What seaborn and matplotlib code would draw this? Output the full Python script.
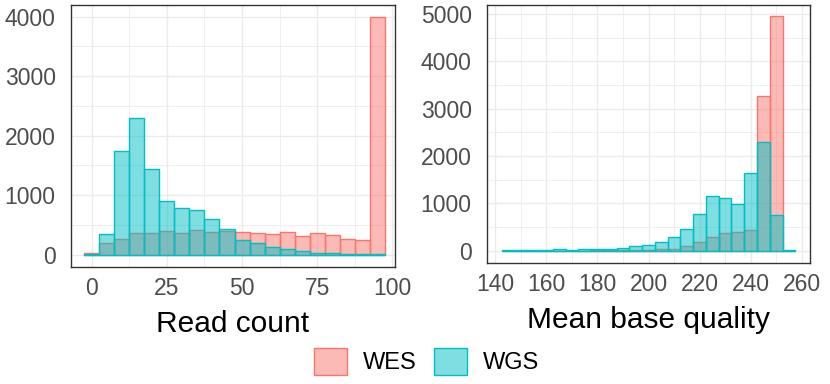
import numpy as np
import pandas as pd
import matplotlib
matplotlib.use("Agg")
import matplotlib.pyplot as plt
from matplotlib.colors import to_rgba
from matplotlib.patches import Patch
from matplotlib.ticker import FixedLocator
import seaborn as sns

# ---------------- data ----------------
groups = ["WES", "WGS"]
colors = {"WES": "#F8766D", "WGS": "#00BFC4"}

read_count_bins = [0, 5, 10, 15, 20, 25, 30, 35, 40, 45,
                   50, 55, 60, 65, 70, 75, 80, 85, 90, 95]
read_count_wes = [30, 200, 267, 356, 367, 389, 367, 406, 372, 389,
                  383, 367, 350, 383, 317, 356, 322, 261, 250, 4000]
read_count_wgs = [3, 339, 1744, 2294, 1433, 894, 778, 750, 594, 422,
                  250, 200, 133, 100, 67, 33, 22, 17, 11, 11]

mbq_bins = [145, 150, 155, 160, 165, 170, 175, 180, 185, 190, 195, 200,
            205, 210, 215, 220, 225, 230, 235, 240, 245, 250, 255]
mbq_wes = [2, 2, 2, 3, 3, 4, 5, 6, 7, 8, 10, 20,
           30, 40, 95, 180, 285, 372, 395, 432, 3260, 4950, 5]
mbq_wgs = [14, 14, 14, 21, 28, 21, 32, 40, 47, 56, 98, 112,
           196, 281, 468, 786, 1160, 1118, 989, 1641, 2300, 750, 7]

read_ticks = [0, 25, 50, 75, 100]
read_minor = [12.5, 37.5, 62.5, 87.5]
read_yticks = [0, 1000, 2000, 3000, 4000]
read_yminor = [500, 1500, 2500, 3500]
mbq_ticks = [140, 160, 180, 200, 220, 240, 260]
mbq_minor = [150, 170, 190, 210, 230, 250]
mbq_yticks = [0, 1000, 2000, 3000, 4000, 5000]
mbq_yminor = [500, 1500, 2500, 3500, 4500]

# ---------------- style ----------------
sns.set_style("white")
plt.rcParams["font.family"] = ["Liberation Sans", "DejaVu Sans"]

W, H = 830, 384
fig = plt.figure(figsize=(W / 100, H / 100), dpi=100)

def px_axes(x0, x1, ytop, ybot):
    return fig.add_axes([x0 / W, (H - ybot) / H, (x1 - x0) / W, (ybot - ytop) / H])

ax1 = px_axes(71, 395, 4.7, 266.5)
ax2 = px_axes(487, 810, 4.7, 262.5)

def draw(ax, bins, wes, wgs, binwidth):
    df = pd.DataFrame({
        "value": list(bins) * 2,
        "count": list(wes) + list(wgs),
        "group": ["WES"] * len(bins) + ["WGS"] * len(bins),
    })
    lo = bins[0] - binwidth / 2
    hi = bins[-1] + binwidth / 2
    for g in groups:
        sub = df[df["group"] == g]
        sns.histplot(data=sub, x="value", weights="count", binwidth=binwidth,
                     binrange=(lo, hi), ax=ax, color=colors[g], alpha=0.5,
                     edgecolor=colors[g], linewidth=1.0, legend=False)
    ymax = max(max(wes), max(wgs))
    ax.set_ylim(-0.05 * ymax, 1.05 * ymax)

draw(ax1, read_count_bins, read_count_wes, read_count_wgs, 5)
draw(ax2, mbq_bins, mbq_wes, mbq_wgs, 5)

ax1.set_xlim(-6.9, 100.9)
ax2.set_xlim(136.75, 263.25)

for ax, xt, xm, yt, ym, title in [
    (ax1, read_ticks, read_minor, read_yticks, read_yminor, "Read count"),
    (ax2, mbq_ticks, mbq_minor, mbq_yticks, mbq_yminor, "Mean base quality"),
]:
    ax.set_axisbelow(True)
    ax.xaxis.set_major_locator(FixedLocator(xt))
    ax.xaxis.set_minor_locator(FixedLocator(xm))
    ax.yaxis.set_major_locator(FixedLocator(yt))
    ax.yaxis.set_minor_locator(FixedLocator(ym))
    ax.set_xticklabels([str(v) for v in xt])
    ax.set_yticklabels([str(v) for v in yt])
    ax.grid(which="major", color="#EBEBEB", linewidth=1.0)
    ax.grid(which="minor", color="#EBEBEB", linewidth=0.55)
    ax.tick_params(which="minor", length=0)
    ax.tick_params(which="major", direction="out", length=5, width=1.2,
                   color="#333333", labelcolor="#4D4D4D", labelsize=16.5)
    ax.tick_params(axis="x", pad=2.5)
    ax.tick_params(axis="y", pad=6)
    for s in ax.spines.values():
        s.set_visible(True)
        s.set_color("#333333")
        s.set_linewidth(1.0)
    ax.set_xlabel(title, fontsize=21.5, color="black", labelpad=7)
    ax.set_ylabel("")

handles = [Patch(facecolor=to_rgba(colors[g], 0.5), edgecolor=colors[g],
                 linewidth=1.0, label=g) for g in groups]
fig.legend(handles=handles, loc="center", bbox_to_anchor=(0.514, 0.0586),
           ncol=2, frameon=False, fontsize=17, handlelength=1.4,
           handleheight=1.4, handletextpad=0.7, columnspacing=0.7,
           borderpad=0, labelcolor="black")

fig.savefig("out.png", dpi=100)
